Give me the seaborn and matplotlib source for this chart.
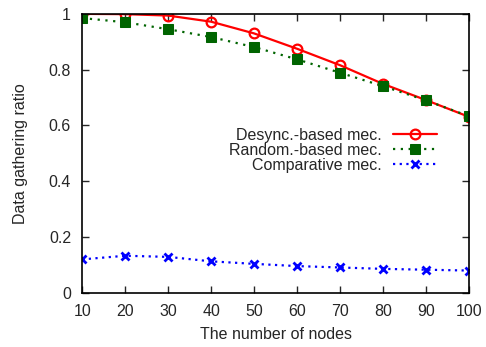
import pandas as pd
import matplotlib
matplotlib.use('Agg')
import matplotlib.pyplot as plt
import seaborn as sns

# --- Data ---
nodes = [10, 20, 30, 40, 50, 60, 70, 80, 90, 100]
desync = [1.0, 0.999, 0.994, 0.972, 0.930, 0.875, 0.816, 0.749, 0.691, 0.631]
random_mec = [0.985, 0.970, 0.945, 0.917, 0.881, 0.837, 0.789, 0.741, 0.690, 0.633]
comparative = [0.120, 0.133, 0.129, 0.113, 0.104, 0.096, 0.091, 0.086, 0.083, 0.080]

labels = ['Desync.-based mec.', 'Random.-based mec.', 'Comparative mec.']
x_ticks = [10, 20, 30, 40, 50, 60, 70, 80, 90, 100]
y_ticks = [0, 0.2, 0.4, 0.6, 0.8, 1]

# --- Style ---
sns.set_style('ticks')
plt.rcParams['font.family'] = ['Liberation Sans', 'DejaVu Sans']
FS = 11.5

fig = plt.figure(figsize=(4.86, 3.47), dpi=100)
ax = fig.add_axes([0.169, 0.156, 0.796, 0.804])

sns.lineplot(x=nodes, y=desync, ax=ax, color='#ff0000', linewidth=1.6,
             marker='o', markersize=7, markerfacecolor='none',
             markeredgecolor='#ff0000', markeredgewidth=1.6, label=labels[0])
sns.lineplot(x=nodes, y=random_mec, ax=ax, color='#006400', linewidth=1.6,
             linestyle=(0, (1, 2.5)), marker='s', markersize=6.5,
             markeredgecolor='#006400', markerfacecolor='#006400', label=labels[1])
sns.lineplot(x=nodes, y=comparative, ax=ax, color='#0000ff', linewidth=1.6,
             linestyle=(0, (1, 2)), marker='x', markersize=6,
             markeredgecolor='#0000ff', markeredgewidth=2.0, label=labels[2])

ax.set_xlim(10, 100)
ax.set_ylim(0, 1)
ax.set_xticks(x_ticks)
ax.set_xticklabels([str(t) for t in x_ticks])
ax.set_yticks(y_ticks)
ax.set_yticklabels(['0', '0.2', '0.4', '0.6', '0.8', '1'])
ax.tick_params(direction='in', top=True, right=True, length=5, width=1,
               labelsize=FS)
ax.tick_params(axis='x', pad=8)
ax.tick_params(axis='y', pad=8)
for s in ax.spines.values():
    s.set_linewidth(1.2)
    s.set_color('black')

ax.set_xlabel('The number of nodes', fontsize=FS, labelpad=6)
ax.set_ylabel('Data gathering ratio', fontsize=FS, labelpad=15)

ax.legend(loc='upper right', bbox_to_anchor=(0.935, 0.615), frameon=False,
          markerfirst=False, handlelength=2.8, handletextpad=0.7,
          labelspacing=0.0, fontsize=FS, borderaxespad=0)

fig.savefig('out.png', dpi=100)
